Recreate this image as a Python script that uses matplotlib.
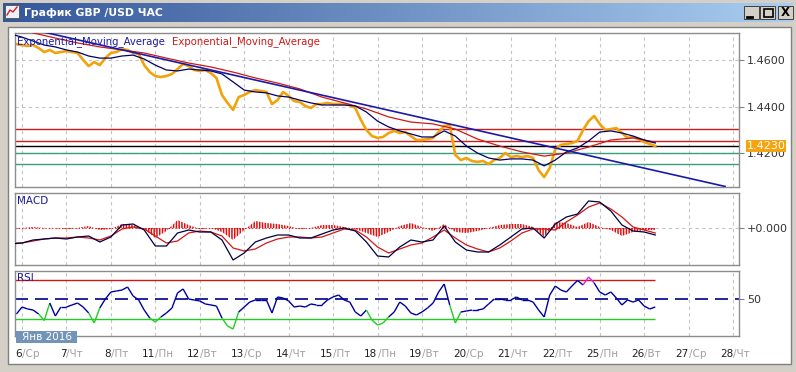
import numpy as np
import matplotlib
matplotlib.use("Agg")
import matplotlib.pyplot as plt
from matplotlib.collections import LineCollection
from matplotlib.colors import LinearSegmentedColormap
from matplotlib.patches import Rectangle

plt.rcParams["font.family"] = ["DejaVu Sans"]
plt.rcParams["hatch.linewidth"] = 1.1

W, H = 796, 372

# --- data (GBP/USD, hourly chart, Jan 2016) ---
day_numbers = ["6", "7", "8", "11", "12", "13", "14", "15", "18", "19",
               "20", "21", "22", "25", "26", "27", "28"]
weekdays = ["Ср", "Чт", "Пт", "Пн", "Вт", "Ср", "Чт", "Пт", "Пн", "Вт",
            "Ср", "Чт", "Пт", "Пн", "Вт", "Ср", "Чт"]

# close every 3 hours, first point 3h before 6 Jan 00:00
close = [1.4668, 1.4664, 1.4660, 1.4664, 1.4651, 1.4634, 1.4643, 1.4630, 1.4634, 1.4638,
         1.4634, 1.4630, 1.4600, 1.4574, 1.4591, 1.4578, 1.4608, 1.4630, 1.4634, 1.4647,
         1.4643, 1.4630, 1.4626, 1.4578, 1.4548, 1.4531, 1.4527, 1.4531, 1.4540, 1.4561,
         1.4583, 1.4574, 1.4557, 1.4553, 1.4557, 1.4544, 1.4523, 1.4450, 1.4416, 1.4386,
         1.4441, 1.4450, 1.4463, 1.4471, 1.4467, 1.4463, 1.4411, 1.4428, 1.4463, 1.4446,
         1.4424, 1.4420, 1.4403, 1.4394, 1.4411, 1.4411, 1.4416, 1.4411, 1.4411, 1.4411,
         1.4407, 1.4394, 1.4343, 1.4300, 1.4274, 1.4266, 1.4270, 1.4287, 1.4296, 1.4287,
         1.4291, 1.4274, 1.4257, 1.4257, 1.4261, 1.4266, 1.4291, 1.4317, 1.4321, 1.4193,
         1.4171, 1.4180, 1.4167, 1.4163, 1.4167, 1.4154, 1.4171, 1.4180, 1.4201, 1.4184,
         1.4188, 1.4184, 1.4188, 1.4180, 1.4128, 1.4098, 1.4137, 1.4218, 1.4236, 1.4240,
         1.4244, 1.4253, 1.4300, 1.4338, 1.4360, 1.4326, 1.4300, 1.4304, 1.4308, 1.4287,
         1.4266, 1.4270, 1.4261, 1.4248, 1.4240, 1.4231]

# fast EMA every 6 hours, slow EMA every 12 hours (both start 6h before 6 Jan)
ema_fast = [1.4711, 1.4698, 1.4681, 1.4664, 1.4656, 1.4643, 1.4634, 1.4617, 1.4608, 1.4608,
            1.4617, 1.4621, 1.4604, 1.4578, 1.4557, 1.4553, 1.4561, 1.4557, 1.4553, 1.4540,
            1.4506, 1.4471, 1.4463, 1.4459, 1.4446, 1.4441, 1.4428, 1.4416, 1.4407, 1.4407,
            1.4407, 1.4403, 1.4377, 1.4338, 1.4313, 1.4296, 1.4283, 1.4270, 1.4270, 1.4296,
            1.4274, 1.4231, 1.4201, 1.4180, 1.4171, 1.4176, 1.4176, 1.4171, 1.4146, 1.4171,
            1.4206, 1.4223, 1.4253, 1.4291, 1.4296, 1.4287, 1.4274, 1.4257, 1.4244]
ema_slow = [1.4737, 1.4716, 1.4694, 1.4673, 1.4656, 1.4643, 1.4630, 1.4608, 1.4587, 1.4570,
            1.4548, 1.4523, 1.4501, 1.4476, 1.4441, 1.4416, 1.4390, 1.4356, 1.4334, 1.4326,
            1.4304, 1.4261, 1.4231, 1.4206, 1.4188, 1.4201, 1.4227, 1.4257, 1.4266, 1.4248]

trend_days = [0.29, 15.82]
trend_prices = [1.4728, 1.4058]
red_levels = [1.4303, 1.4253]
black_level = 1.4231
green_levels = [1.4200, 1.4154]
last_price = 1.4230

# MACD main and signal every 6 hours
macd_main = [-0.0016, -0.0015, -0.0012, -0.0011, -0.0010, -0.0011, -0.0009, -0.0008, -0.0014, -0.0009,
             0.0003, 0.0004, -0.0002, -0.0018, -0.0018, -0.0005, -0.0002, -0.0004, -0.0004, -0.0012,
             -0.0032, -0.0025, -0.0014, -0.0010, -0.0007, -0.0007, -0.0010, -0.0010, -0.0006, -0.0002,
             0.0000, -0.0003, -0.0014, -0.0028, -0.0029, -0.0019, -0.0012, -0.0014, -0.0012, 0.0002,
             -0.0014, -0.0022, -0.0024, -0.0024, -0.0017, -0.0009, -0.0001, 0.0000, -0.0010, 0.0004,
             0.0011, 0.0014, 0.0027, 0.0026, 0.0017, 0.0003, -0.0003, -0.0004, -0.0007]
macd_signal = [-0.0015, -0.0015, -0.0013, -0.0011, -0.0010, -0.0010, -0.0009, -0.0010, -0.0012, -0.0008,
               -0.0001, 0.0001, -0.0001, -0.0008, -0.0015, -0.0013, -0.0005, -0.0003, -0.0004, -0.0008,
               -0.0020, -0.0023, -0.0021, -0.0015, -0.0011, -0.0009, -0.0009, -0.0010, -0.0009, -0.0005,
               -0.0001, -0.0002, -0.0009, -0.0019, -0.0025, -0.0021, -0.0017, -0.0015, -0.0009, -0.0002,
               -0.0010, -0.0017, -0.0021, -0.0024, -0.0020, -0.0013, -0.0005, -0.0001, -0.0001, -0.0002,
               0.0006, 0.0013, 0.0021, 0.0025, 0.0019, 0.0011, 0.0001, -0.0002, -0.0005]

# RSI every 3 hours, same grid as close
rsi = [35.1, 42.3, 40.3, 39.2, 35.1, 28.5, 46.4, 33.1, 42.3, 42.3,
       44.4, 46.4, 42.3, 36.2, 25.9, 41.3, 50.5, 57.7, 58.7, 59.7,
       62.8, 53.6, 49.5, 39.2, 31.0, 26.9, 32.1, 36.2, 41.3, 56.7,
       60.8, 50.5, 49.5, 48.5, 45.4, 44.4, 43.3, 31.0, 22.8, 19.7,
       37.2, 42.3, 47.4, 49.5, 49.5, 49.5, 36.2, 52.6, 51.5, 48.5,
       42.3, 43.3, 42.3, 45.4, 44.4, 44.4, 49.5, 52.6, 54.6, 49.5,
       47.4, 37.2, 33.1, 39.2, 29.0, 23.8, 25.9, 32.1, 37.2, 47.4,
       43.3, 36.2, 34.1, 37.2, 41.3, 46.4, 57.7, 65.9, 44.4, 25.9,
       37.2, 38.2, 39.2, 39.2, 40.3, 45.4, 50.5, 50.5, 49.5, 49.5,
       52.6, 49.5, 49.5, 47.4, 39.2, 32.1, 54.6, 63.8, 59.7, 57.7,
       63.8, 69.5, 64.9, 73.1, 66.9, 57.7, 54.6, 57.7, 51.5, 44.4,
       49.5, 47.4, 49.5, 43.3, 40.3, 42.3]
rsi_levels = [30, 50, 70]

# time axes in days (0 = 6 Jan)
t_close = np.arange(len(close)) * 0.125 - 0.125
t_fast = np.arange(len(ema_fast)) * 0.25 - 0.25
t_slow = np.arange(len(ema_slow)) * 0.5 - 0.25
t_macd = np.arange(len(macd_main)) * 0.25 - 0.25
t_end = t_close[-1]

# layout: day index -> pixel is 22 + 44.44 * d
X_LEFT, X_RIGHT = -0.1575, 16.134

fig = plt.figure(figsize=(W / 100, H / 100), dpi=100)
fig.patch.set_facecolor("#d4d0c8")

# window chrome in pixel coordinates
bg = fig.add_axes([0, 0, 1, 1], zorder=0)
bg.axis("off")
tb_cmap = LinearSegmentedColormap.from_list("titlebar", ["#34579a", "#aacdf0"])
bg.imshow(np.linspace(0, 1, 256)[None, :], cmap=tb_cmap, extent=[3, 793, 22, 3], aspect="auto")
bg.add_patch(Rectangle((8, 27), 783, 337, fc="white", ec="#808080", lw=1))
bg.add_patch(Rectangle((5, 5), 14, 13, fc="#eef2f8", ec="#505050", lw=0.6))
bg.plot([7, 10, 13, 17], [15, 10, 12, 7], color="#d02020", lw=1)
bg.text(24, 12.5, "График GBP /USD ЧАС", color="white", fontweight="bold",
        fontsize=7.8, va="center")
for bx in (744, 760, 778):
    bg.add_patch(Rectangle((bx, 6), 15, 13, fc="#d4d0c8", ec="#404040", lw=0.7))
bg.plot([747, 752], [16.5, 16.5], color="black", lw=2)
bg.add_patch(Rectangle((763.5, 8.5), 9, 8, fill=False, ec="black", lw=1.2))
bg.text(785.5, 12.8, "X", fontsize=8.5, fontweight="bold", ha="center", va="center")
bg.set_xlim(0, W)
bg.set_ylim(H, 0)


def panel(x0, y0, x1, y1):
    ax = fig.add_axes([x0 / W, 1 - y1 / H, (x1 - x0) / W, (y1 - y0) / H], zorder=2)
    ax.set_xlim(X_LEFT, X_RIGHT)
    for s in ax.spines.values():
        s.set_color("#8c8c8c")
        s.set_linewidth(1)
    ax.set_xticks([])
    ax.yaxis.tick_right()
    ax.tick_params(axis="y", length=3.6, width=0.8, color="#808080", pad=2.2,
                   labelsize=8, labelcolor="#333333")
    for d in range(len(day_numbers)):
        ax.axvline(d, color="#c4c4c4", lw=0.8, ls=(0, (3, 3)), zorder=0)
    return ax


# price panel
ax1 = panel(15, 33, 739, 187)
ax1.set_ylim(1.40556, 1.47156)
ax1.set_yticks([1.42, 1.44, 1.46])
ax1.set_yticklabels([f"{v:.4f}" for v in [1.42, 1.44, 1.46]])
for v in [1.42, 1.44, 1.46]:
    ax1.axhline(v, color="#c4c4c4", lw=0.8, ls=(0, (3, 3)), zorder=0)
for v in red_levels:
    ax1.axhline(v, color="#c81e1e", lw=1, zorder=1)
ax1.axhline(black_level, color="black", lw=1, zorder=1)
for v in green_levels:
    ax1.axhline(v, color="#3a9e7e", lw=1, zorder=1)
ax1.plot(t_close, close, color="#f2a30c", lw=1.9, zorder=2)
ax1.plot(t_slow, ema_slow, color="#d01818", lw=0.9, zorder=3)
ax1.plot(t_fast, ema_fast, color="#00006e", lw=0.9, zorder=3)
ax1.plot(trend_days, trend_prices, color="#1a1aa8", lw=1.2, zorder=3)

# MACD panel
ax2 = panel(15, 193, 739, 265)
ax2.set_ylim(-0.0037, 0.0035)
ax2.set_yticks([0])
ax2.set_yticklabels(["+0.000"])
ax2.axhline(0, color="#c4c4c4", lw=0.8, ls=(0, (3, 3)), zorder=0)
hist = np.array(macd_main) - np.array(macd_signal)
ax2.fill_between(t_macd, 0, hist, hatch="||||||", facecolor="none", edgecolor="#e01010",
                 lw=0, interpolate=True, zorder=1)
ax2.hlines(0, X_LEFT, t_end, colors="#e01010", lw=0.8, linestyles=(0, (1, 2)), zorder=1)
ax2.plot(t_macd, macd_signal, color="#d01818", lw=0.9, zorder=2)
ax2.plot(t_macd, macd_main, color="#000040", lw=0.9, zorder=3)

# RSI panel
ax3 = panel(15, 271, 739, 336)
ax3.set_ylim(12.6, 79.2)
ax3.set_yticks([rsi_levels[1]])
ax3.set_yticklabels([str(rsi_levels[1])])
ax3.hlines(rsi_levels[2], X_LEFT, t_end, colors="#d01818", lw=1, zorder=1)
ax3.hlines(rsi_levels[0], X_LEFT, t_end, colors="#22cc22", lw=1, zorder=1)
ax3.axhline(rsi_levels[1], color="#00008c", lw=1.2, ls=(0, (7.8, 4.2)), zorder=1)
pts = np.column_stack([t_close, rsi])
segs = np.stack([pts[:-1], pts[1:]], axis=1)
seg_colors = []
for a, b in zip(rsi[:-1], rsi[1:]):
    if min(a, b) < rsi_levels[0]:
        seg_colors.append("#22cc22")
    elif max(a, b) > rsi_levels[2]:
        seg_colors.append("#e020e0")
    else:
        seg_colors.append("#0000a0")
ax3.add_collection(LineCollection(segs, colors=seg_colors, lw=1, zorder=2))

# date labels: dark day number, grey weekday, split at the tick
for i, (dn, wd) in enumerate(zip(day_numbers, weekdays)):
    ax3.annotate(dn, xy=(i, 0), xycoords=("data", "axes fraction"), xytext=(0, -18),
                 textcoords="offset pixels", ha="right", va="center", fontsize=7.5,
                 color="#202020", annotation_clip=False)
    ax3.annotate("/" + wd, xy=(i, 0), xycoords=("data", "axes fraction"), xytext=(0, -18),
                 textcoords="offset pixels", ha="left", va="center", fontsize=7.5,
                 color="#a0a0a0", annotation_clip=False)

# overlay texts and badges
ov = fig.add_axes([0, 0, 1, 1], zorder=5)
ov.patch.set_alpha(0)
ov.axis("off")
ov.text(17, 41.5, "Exponential_Moving_Average", color="#1a1aa8", fontsize=7.3, va="center")
ov.text(172, 41.5, "Exponential_Moving_Average", color="#d01818", fontsize=7.3, va="center")
ov.text(17, 201, "MACD", color="#1a1a8c", fontsize=7.5, va="center")
ov.text(17, 278, "RSI", color="#1a1a8c", fontsize=7.5, va="center")
ov.add_patch(Rectangle((746, 140), 40, 12, fc="#f5a30f", ec="none"))
ov.text(766, 146, f"{last_price:.4f}", color="white", fontsize=8, ha="center", va="center")
ov.add_patch(Rectangle((16, 331), 61, 12, fc="#7393b7", ec="none"))
ov.text(46.5, 337.5, "Янв 2016", color="white", fontsize=7.5, ha="center", va="center")
ov.set_xlim(0, W)
ov.set_ylim(H, 0)

fig.savefig("out.png", dpi=100, facecolor=fig.get_facecolor())
